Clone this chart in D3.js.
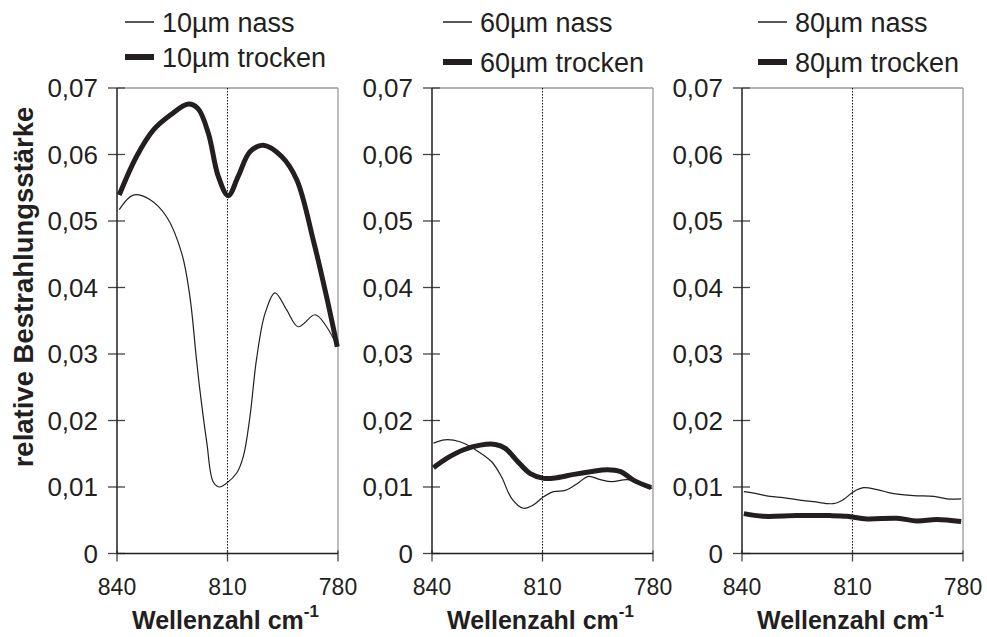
<!DOCTYPE html>
<html>
<head>
<meta charset="utf-8">
<script src="https://cdn.jsdelivr.net/npm/d3@7"></script>
<style>
  body { margin: 0; background: #fff; }
  text { font-family: "Liberation Sans", Arial, sans-serif; fill: #231f20; }
</style>
</head>
<body>
<div id="chart"></div>
<script>
// data (wavenumber in cm-1, relative irradiance)
const yTicks = [0, 0.01, 0.02, 0.03, 0.04, 0.05, 0.06, 0.07];
const xTicks = [840, 810, 780];

const wn10Nass = [839.4, 835.6, 831, 826.5, 822.4, 820.2, 818.5, 817.5, 815.6, 813.9, 812.2, 810.2, 807.5, 805.7, 803.9, 802.1, 799.8, 797.1, 793.9, 790.8, 786.2, 783.1, 780.2];
const val10Nass = [0.0517, 0.0539, 0.0532, 0.0506, 0.0451, 0.0386, 0.0296, 0.0246, 0.0166, 0.0108, 0.0100, 0.0106, 0.0121, 0.0146, 0.0206, 0.0293, 0.0361, 0.0392, 0.0366, 0.0341, 0.0359, 0.0341, 0.0311];
const wn10Trocken = [839.4, 834.7, 830.1, 825.6, 820.6, 818, 815.2, 812.5, 809.8, 807.1, 803.9, 800.3, 795.3, 791.2, 786.7, 783.1, 780.2];
const val10Trocken = [0.0539, 0.0597, 0.0637, 0.0659, 0.0676, 0.0669, 0.0632, 0.0567, 0.0538, 0.0567, 0.0604, 0.0614, 0.0597, 0.0562, 0.0471, 0.0386, 0.0311];

const wn60Nass = [839.6, 836.5, 832.4, 827.9, 823.8, 821.1, 818.4, 815.2, 812.5, 809.8, 807, 803.8, 800.6, 797.5, 794.3, 791.1, 787, 783.4, 780.2];
const val60Nass = [0.0166, 0.0171, 0.0168, 0.0155, 0.0138, 0.0115, 0.0083, 0.0068, 0.0073, 0.0085, 0.0093, 0.0095, 0.0105, 0.0116, 0.0111, 0.0108, 0.0111, 0.0105, 0.0098];
const wn60Trocken = [839.6, 836, 831.4, 826.9, 822.8, 820.1, 817, 813.3, 809.7, 806.1, 801.5, 797, 792.4, 788.8, 785.2, 780.5];
const val60Trocken = [0.0129, 0.0143, 0.0156, 0.0163, 0.0164, 0.0158, 0.0140, 0.0120, 0.0113, 0.0114, 0.0119, 0.0123, 0.0126, 0.0123, 0.0110, 0.0099];

const wn80Nass = [839.5, 836.1, 832.4, 828.8, 825.2, 820.6, 815.2, 812.5, 809.7, 807, 803.3, 798.8, 793.4, 787.9, 784.3, 780.5];
const val80Nass = [0.0093, 0.0090, 0.0086, 0.0084, 0.0081, 0.0078, 0.0075, 0.0081, 0.0093, 0.0099, 0.0096, 0.0090, 0.0087, 0.0086, 0.0082, 0.0082];
const wn80Trocken = [839.5, 834.3, 825.2, 816.1, 811.5, 806.1, 797.9, 792.5, 787.1, 780.5];
const val80Trocken = [0.0060, 0.0056, 0.0057, 0.0057, 0.0056, 0.0052, 0.0053, 0.0049, 0.0051, 0.0048];

const panels = [
    { label: "10µm", nass: [wn10Nass, val10Nass], trocken: [wn10Trocken, val10Trocken] },
    { label: "60µm", nass: [wn60Nass, val60Nass], trocken: [wn60Trocken, val60Trocken] },
    { label: "80µm", nass: [wn80Nass, val80Nass], trocken: [wn80Trocken, val80Trocken] }
];

// layout
const panelLeft = [117, 432, 742];
const legendOffset = [8, 11, 16];
const legendY = [[22, 57], [22, 62], [22, 62]];
const plotTop = 88, width = 221, height = 465.5;

const svg = d3.select("#chart")
    .append("svg")
    .attr("width", 987)
    .attr("height", 637);

const x = d3.scaleLinear().domain([840, 780]).range([0, width]);
const y = d3.scaleLinear().domain([0, 0.07]).range([height, 0]);
const fmt = d => d === 0 ? "0" : d3.format(".2f")(d).replace(".", ",");

const line = d3.line()
    .x(d => x(d[0]))
    .y(d => y(d[1]))
    .curve(d3.curveCatmullRom.alpha(0.5));

panels.forEach(function (p, i) {
    const g = svg.append("g")
        .attr("transform", `translate(${panelLeft[i]},${plotTop})`);

    // frame: top and right in grey
    g.append("line").attr("x1", 0).attr("x2", width).attr("y1", 0).attr("y2", 0)
        .attr("stroke", "#9a9a9a").attr("stroke-width", 1.3);
    g.append("line").attr("x1", width).attr("x2", width).attr("y1", 0).attr("y2", height)
        .attr("stroke", "#9a9a9a").attr("stroke-width", 1.3);

    // dotted line at 810
    g.append("line")
        .attr("x1", x(810)).attr("x2", x(810))
        .attr("y1", 0).attr("y2", height)
        .attr("stroke", "#111").attr("stroke-width", 1)
        .attr("stroke-dasharray", "1.5,1.5");

    // y ticks + labels
    g.selectAll(".yt").data(yTicks).enter().append("line")
        .attr("x1", -9).attr("x2", 8)
        .attr("y1", d => y(d)).attr("y2", d => y(d))
        .attr("stroke", "#444").attr("stroke-width", 1.3);
    g.selectAll(".yl").data(yTicks).enter().append("text")
        .attr("x", -19).attr("y", d => y(d))
        .attr("dy", "0.36em")
        .attr("text-anchor", "end")
        .style("font-size", "26px")
        .text(fmt);

    // x ticks + labels
    g.selectAll(".xt").data(xTicks).enter().append("line")
        .attr("x1", d => x(d)).attr("x2", d => x(d))
        .attr("y1", height - 3).attr("y2", height + 8)
        .attr("stroke", "#444").attr("stroke-width", 1.3);
    g.selectAll(".xl").data(xTicks).enter().append("text")
        .attr("x", d => x(d)).attr("y", height + 41)
        .attr("text-anchor", "middle")
        .style("font-size", "23px")
        .text(d => d);

    // axes lines
    g.append("line").attr("x1", 0).attr("x2", 0).attr("y1", 0).attr("y2", height)
        .attr("stroke", "#231f20").attr("stroke-width", 1.5);
    g.append("line").attr("x1", 0).attr("x2", width).attr("y1", height).attr("y2", height)
        .attr("stroke", "#231f20").attr("stroke-width", 1.5);

    // x title
    const xt = g.append("text")
        .attr("x", width / 2 - 2).attr("y", height + 75)
        .attr("text-anchor", "middle")
        .style("font-size", "25px")
        .style("font-weight", "bold");
    xt.append("tspan").text("Wellenzahl cm");
    xt.append("tspan").attr("dy", -12).style("font-size", "17px").text("-1");

    // curves
    const nass = p.nass[0].map((w, j) => [w, p.nass[1][j]]);
    const trocken = p.trocken[0].map((w, j) => [w, p.trocken[1][j]]);
    g.append("path").datum(nass)
        .attr("fill", "none").attr("stroke", "#231f20").attr("stroke-width", 1.2)
        .attr("d", line);
    g.append("path").datum(trocken)
        .attr("fill", "none").attr("stroke", "#231f20").attr("stroke-width", 5)
        .attr("stroke-linejoin", "round")
        .attr("d", line);

    // legend
    const lg = svg.append("g")
        .attr("transform", `translate(${panelLeft[i] + legendOffset[i]},0)`);
    [["nass", 1.5], ["trocken", 6]].forEach(function (s, k) {
        lg.append("line")
            .attr("x1", 0).attr("x2", 29)
            .attr("y1", legendY[i][k]).attr("y2", legendY[i][k])
            .attr("stroke", "#231f20").attr("stroke-width", s[1]);
        lg.append("text")
            .attr("x", 37).attr("y", legendY[i][k])
            .attr("dy", "0.36em")
            .style("font-size", "27px")
            .text(p.label + " " + s[0]);
    });
});

// y title
svg.append("text")
    .attr("transform", "translate(33,287) rotate(-90)")
    .attr("text-anchor", "middle")
    .style("font-size", "27.5px")
    .style("font-weight", "bold")
    .text("relative Bestrahlungsstärke");
</script>
</body>
</html>
